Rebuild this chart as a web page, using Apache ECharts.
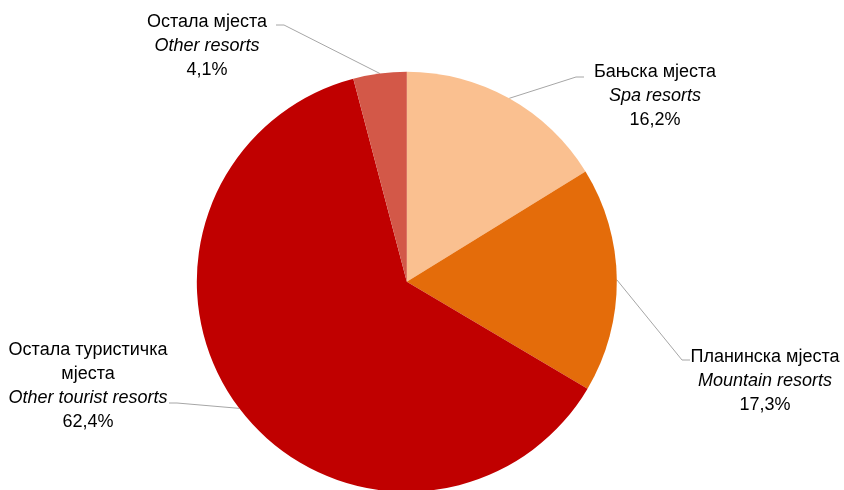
<!DOCTYPE html>
<html>
<head>
<meta charset="UTF-8">
<title>pie</title>
<script src="https://cdn.jsdelivr.net/npm/echarts@6/dist/echarts.min.js"></script>
<style>
  html, body { margin: 0; padding: 0; background: #fff; }
  #main { width: 844px; height: 490px; }
</style>
</head>
<body>
<div id="main"></div>
<script>
    // категорије и вриједности
    var namesSr = ['Бањска мјеста', 'Планинска мјеста', 'Остала туристичка\nмјеста', 'Остала мјеста'];
    var namesEn = ['Spa resorts', 'Mountain resorts', 'Other tourist resorts', 'Other resorts'];
    var values = [16.2, 17.3, 62.4, 4.1];
    var colors = ['#FAC090', '#E46C0A', '#C00000', '#D35848'];

    // položaj natpisa (centar bloka teksta) i kraj linije
    var labelPos = [[655, 96], [765, 381], [88, 386], [207, 46]];
    var lineEnd = [[[576, 77], [584, 77]], [[682, 360], [690, 360]], [[177, 403], [169, 403]], [[284, 25], [276, 25]]];

    var pieData = [];
    for (var i = 0; i < values.length; i++) {
        pieData.push({ value: values[i], name: namesSr[i], itemStyle: { color: colors[i] } });
    }

    var font = '"Liberation Sans Narrow", "Liberation Sans", Arial, sans-serif';

    var myChart = echarts.init(document.getElementById('main'));
    var option = {
        animation: false,
        series: [{
            type: 'pie',
            center: ['48.2%', '57.5%'],
            radius: 210,
            startAngle: 90,
            clockwise: true,
            data: pieData,
            label: {
                show: true,
                position: 'outside',
                fontFamily: font,
                fontSize: 18,
                color: '#000',
                align: 'center',
                formatter: function (p) {
                    var s = p.name.split('\n').map(function (t) { return '{a|' + t + '}'; }).join('\n');
                    return s + '\n{b|' + namesEn[p.dataIndex] + '}\n{a|' + values[p.dataIndex].toFixed(1).replace('.', ',') + '%}';
                },
                rich: {
                    a: { fontSize: 18, lineHeight: 24, color: '#000', align: 'center', fontFamily: font },
                    b: { fontSize: 18, lineHeight: 24, color: '#000', fontStyle: 'italic', align: 'center', fontFamily: font }
                }
            },
            labelLine: {
                show: true,
                length: 20,
                length2: 10,
                lineStyle: { color: '#A6A6A6', width: 1 }
            },
            labelLayout: function (params) {
                var i = params.dataIndex;
                var p = labelPos[i];
                var res = { x: p[0], y: p[1], align: 'center', verticalAlign: 'middle' };
                if (params.labelLinePoints) {
                    res.labelLinePoints = [params.labelLinePoints[0], lineEnd[i][0], lineEnd[i][1]];
                }
                return res;
            }
        }]
    };
    myChart.setOption(option);
</script>
</body>
</html>
